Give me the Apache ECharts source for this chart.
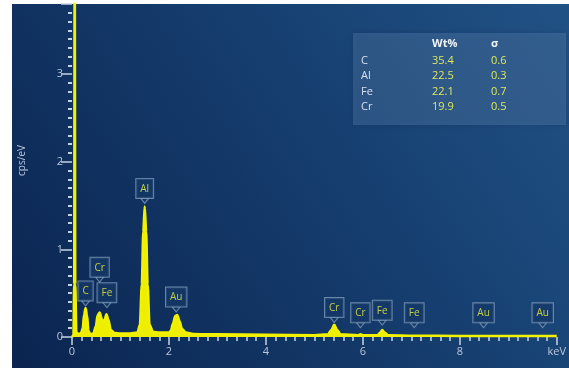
<!DOCTYPE html>
<html>
<head>
<meta charset="utf-8">
<script src="https://cdn.jsdelivr.net/npm/echarts@6/dist/echarts.min.js"></script>
<style>
  html, body { margin: 0; padding: 0; background: #fff; }
  #main { width: 569px; height: 370px; }
</style>
</head>
<body>
<div id="main"></div>
<script>
// spectrum (keV, cps/eV)
var energy = [0.00, 0.03, 0.045, 0.055, 0.068, 0.09, 0.15, 0.19, 0.22, 0.25, 0.28, 0.31, 0.34, 0.38,
  0.44, 0.49, 0.53, 0.57, 0.62, 0.66, 0.71, 0.75, 0.80, 0.88, 1.00, 1.20, 1.35, 1.40,
  1.44, 1.47, 1.50, 1.53, 1.56, 1.60, 1.67, 1.80, 2.00, 2.04, 2.08, 2.13, 2.17, 2.22, 2.27, 2.35, 2.50, 3.00,
  4.00, 5.00, 5.28, 5.35, 5.41, 5.47, 5.54, 5.90, 5.95, 6.02, 6.30, 6.36, 6.40, 6.45, 6.52, 7.06, 8.00, 9.00, 10.00];
var cps = [0.00, 0.02, 0.6, 5.0, 0.6, 0.05, 0.03, 0.05, 0.10, 0.26, 0.33, 0.25, 0.07, 0.03,
  0.04, 0.12, 0.25, 0.28, 0.20, 0.17, 0.26, 0.20, 0.08, 0.045, 0.04, 0.04, 0.05, 0.14,
  0.60, 1.20, 1.49, 1.20, 0.60, 0.14, 0.06, 0.05, 0.05, 0.07, 0.15, 0.24, 0.25, 0.18, 0.09, 0.05, 0.035, 0.03,
  0.025, 0.02, 0.03, 0.08, 0.14, 0.08, 0.03, 0.02, 0.03, 0.02, 0.02, 0.05, 0.08, 0.05, 0.02, 0.015, 0.012, 0.01, 0.01];

// peak markers: name, energy, height of the pointer tip
var peakNames = ['C', 'Cr', 'Fe', 'Al', 'Au', 'Cr', 'Cr', 'Fe', 'Fe', 'Au', 'Au'];
var peakEnergy = [0.28, 0.57, 0.72, 1.50, 2.15, 5.41, 5.95, 6.40, 7.06, 8.49, 9.71];
var peakTip = [0.35, 0.62, 0.33, 1.52, 0.28, 0.16, 0.10, 0.13, 0.10, 0.10, 0.10];

// quantification table
var tableElements = ['C', 'Al', 'Fe', 'Cr'];
var tableWt = ['35.4', '22.5', '22.1', '19.9'];
var tableSigma = ['0.6', '0.3', '0.7', '0.5'];

var spectrum = energy.map(function (e, i) { return [e, cps[i]]; });
var peaks = peakEnergy.map(function (e, i) { return [e, peakTip[i], peakNames[i]]; });

var font = 'Open Sans';
var tableGraphic = [{
  type: 'rect', left: 353, top: 33, z: 5,
  shape: { width: 213, height: 92 },
  style: { fill: 'rgba(95,140,190,0.33)', shadowBlur: 6, shadowColor: 'rgba(0,0,0,0.35)' }
}, {
  type: 'text', left: 432, top: 38, z: 6,
  style: { text: 'Wt%', fill: '#f0f4fa', font: 'bold 11px ' + font }
}, {
  type: 'text', left: 491, top: 38, z: 6,
  style: { text: 'σ', fill: '#f0f4fa', font: 'bold 11px ' + font }
}];
tableElements.forEach(function (el, i) {
  var y = 55 + i * 15.5;
  tableGraphic.push(
    { type: 'text', left: 361, top: y, z: 6, style: { text: el, fill: '#d4e0f0', font: '11px ' + font } },
    { type: 'text', left: 432, top: y, z: 6, style: { text: tableWt[i], fill: '#dde85a', font: '11px ' + font } },
    { type: 'text', left: 491, top: y, z: 6, style: { text: tableSigma[i], fill: '#dde85a', font: '11px ' + font } }
  );
});

var myChart = echarts.init(document.getElementById('main'));
myChart.setOption({
  backgroundColor: '#ffffff',
  animation: false,
  graphic: [{
    type: 'rect', left: 12, top: 4, z: -10, silent: true,
    shape: { width: 557, height: 364 },
    style: {
      fill: new echarts.graphic.LinearGradient(0, 1, 1, 0, [
        { offset: 0, color: '#0b2450' },
        { offset: 0.55, color: '#153d6e' },
        { offset: 1, color: '#215286' }
      ])
    }
  }].concat(tableGraphic),
  grid: { left: 72, right: 7, top: 4, bottom: 33 },
  xAxis: {
    type: 'value', min: 0, max: 10, interval: 2, offset: 3,
    axisLine: { show: false },
    axisTick: { length: 8, lineStyle: { color: '#c5d2e3', width: 1.5 } },
    minorTick: { show: true, splitNumber: 10, length: 4, lineStyle: { color: '#c5d2e3', width: 1.5 } },
    splitLine: { show: false },
    axisLabel: {
      color: '#b9c7da', fontSize: 11, fontFamily: font, margin: 6,
      formatter: function (v) { return v === 10 ? 'keV' : String(v); }
    }
  },
  yAxis: {
    type: 'value', min: 0, max: 3.8, interval: 1, offset: 7,
    name: 'cps/eV', nameLocation: 'middle', nameRotate: 90, nameGap: 38,
    nameTextStyle: { color: '#b9c7da', fontSize: 10, fontFamily: font, padding: [0, 0, 0, 20] },
    axisLine: { show: false },
    axisTick: { length: 11, lineStyle: { color: '#c5d2e3', width: 1.5 } },
    minorTick: { show: true, splitNumber: 10, length: 4, lineStyle: { color: '#c5d2e3', width: 2 } },
    splitLine: { show: false },
    axisLabel: {
      color: '#b9c7da', fontSize: 11, fontFamily: font, margin: 2,
      formatter: function (v) { return v % 1 === 0 ? String(v) : ''; }
    }
  },
  series: [{
    type: 'line',
    data: spectrum,
    showSymbol: false,
    smooth: 0.3,
    smoothMonotone: 'x',
    lineStyle: { color: '#f2f200', width: 2.5 },
    areaStyle: { color: '#eeee00', opacity: 1 },
    z: 2
  }, {
    type: 'scatter',
    data: peaks,
    symbol: 'triangle',
    symbolRotate: 180,
    symbolSize: [8, 5],
    symbolOffset: [0, -3],
    itemStyle: { color: '#143866', borderColor: '#7e9aba', borderWidth: 1 },
    label: {
      show: true, position: 'top', distance: 0,
      formatter: function (p) { return p.value[2]; },
      color: '#ecf040', fontSize: 10, fontFamily: font,
      backgroundColor: '#143866', borderColor: '#7e9aba', borderWidth: 1,
      padding: [5, 4, 4, 4]
    },
    z: 4
  }]
});
</script>
</body>
</html>
